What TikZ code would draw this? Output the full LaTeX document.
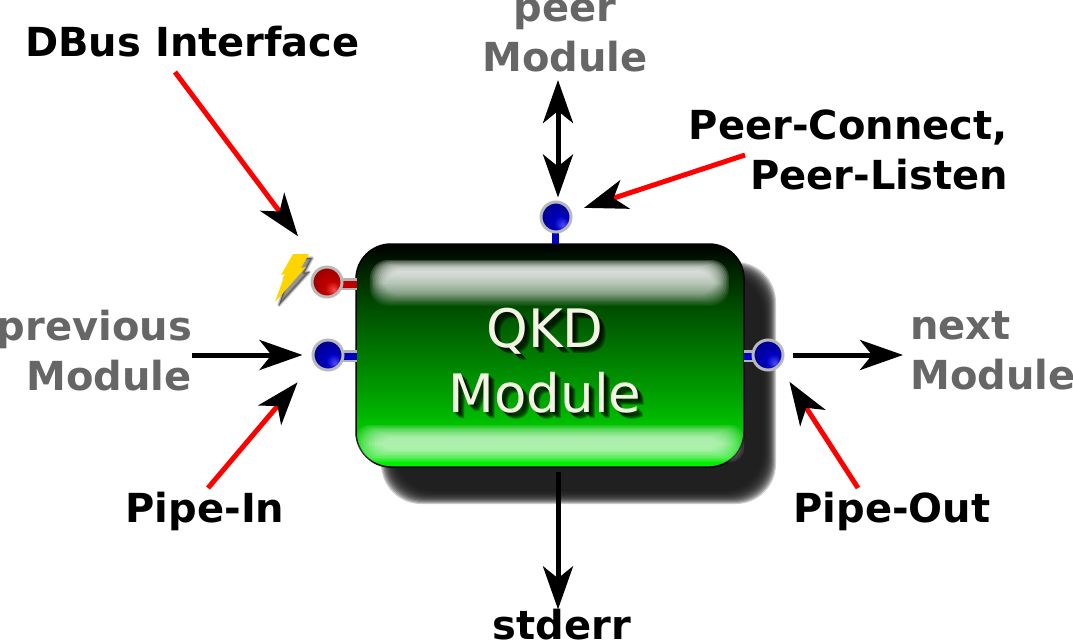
\documentclass[tikz,border=0pt]{standalone}
\usepackage{fontspec}
\setmainfont{DejaVu Sans}
\usetikzlibrary{arrows.meta,fadings}

\definecolor{labelgray}{HTML}{666666}
\definecolor{shadowgray}{HTML}{1A1A1A}
\definecolor{pipered}{HTML}{FF0000}
\definecolor{portblue}{HTML}{0000C0}
\definecolor{portred}{HTML}{C00000}
\definecolor{boltyellow}{HTML}{FFD500}
\definecolor{qkdtext}{HTML}{F4F4E4}

\pgfdeclareverticalshading{bodyshade}{100bp}{
  color(0bp)=(green!95!black);
  color(25bp)=(green!95!black);
  color(40bp)=(green!65!black);
  color(61bp)=(green!30!black);
  color(70bp)=(green!12!black);
  color(75bp)=(black);
  color(100bp)=(black)}
\pgfdeclareradialshading{bluedot}{\pgfpoint{12bp}{-14bp}}{
  color(0bp)=(blue!70!white);
  color(12bp)=(portblue);
  color(32bp)=(blue!55!black);
  color(50bp)=(blue!30!black)}
\pgfdeclareradialshading{reddot}{\pgfpoint{12bp}{-14bp}}{
  color(0bp)=(red!70!white);
  color(12bp)=(portred);
  color(32bp)=(red!60!black);
  color(50bp)=(red!35!black)}
\tikzfading[name=glossfade, top color=transparent!0, bottom color=transparent!80]

\tikzset{
  graylabel/.style={font=\bfseries\fontsize{40}{50}\selectfont, text=labelgray, inner sep=0pt},
  blacklabel/.style={font=\bfseries\fontsize{40}{50}\selectfont, text=black, inner sep=0pt},
  port/.style={circle, inner sep=0pt, minimum size=30pt, draw=gray!55, line width=3pt},
  stub/.style={line width=12pt, draw=gray!60},
  blackarrow/.style={line width=5pt, draw=black, -{Stealth[length=43pt, width=30pt, inset=12pt]}},
  twoarrow/.style={line width=5pt, draw=black, {Stealth[length=43pt, width=30pt, inset=12pt]}-{Stealth[length=43pt, width=30pt, inset=12pt]}},
  redarrow/.style={line width=5pt, draw=pipered, -{Stealth[length=43pt, width=30pt, inset=12pt, color=black]}},
}

\begin{document}
\begin{tikzpicture}[x=1pt, y=-1pt]
\useasboundingbox (0, 0) rectangle (1073, 640);

% drop shadow
\foreach \i in {0,...,13}
  \fill [shadowgray, opacity=.22, rounded corners=40pt]
    (381+\i, 262+\i) rectangle (776-\i, 504-\i);

% module body
\node (body) [draw=black, line width=1.5pt, rounded corners=35pt, shading=bodyshade,
  minimum width=388pt, minimum height=223pt, inner sep=0pt] at (550, 355.5) {};

% gloss bars
\foreach \i in {0,...,9}
  \fill [white, opacity=.2, path fading=glossfade, rounded corners=18pt]
    (370+\i*1.5, 260+\i*1.2) rectangle (729-\i*1.5, 306-\i*1.2);
\foreach \i in {0,...,9}
  \fill [white, opacity=.11, rounded corners=14pt]
    (356+\i*2.4, 425+\i*1.4) rectangle (744-\i*2.4, 462-\i*1.4);

% module caption
\foreach \d in {2,3,4,5,6}
  \node [align=center, font=\fontsize{53}{65}\selectfont, text=black, opacity=.3, inner sep=0pt]
    at (545+\d, 361+\d) {QKD\\Module};
\node (caption) [align=center, font=\fontsize{53}{65}\selectfont, text=qkdtext, inner sep=0pt]
  at (545, 361) {QKD\\Module};

% ports
\draw [stub] (335, 284) -- (357, 284);
\draw [line width=7pt, draw=portred] (335, 284) -- (357, 284);
\draw [stub] (335, 356) -- (357, 356);
\draw [line width=7pt, draw=portblue] (335, 356) -- (357, 356);
\draw [stub] (744, 356) -- (760, 356);
\draw [line width=7pt, draw=portblue] (744, 356) -- (760, 356);
\draw [line width=7pt, draw=portblue] (555, 225) -- (555, 244);

\node (portdbus) [port, shading=reddot] at (327, 282) {};
\node (portin) [port, shading=bluedot] at (328, 355) {};
\node (portpeer) [port, shading=bluedot] at (556, 217) {};
\node (portout) [port, shading=bluedot] at (768, 355) {};

% bolt
\foreach \i in {0,...,4}
  \fill [black, opacity=.1, line join=round, draw=black, line width={(4-\i)*1pt}]
    (297, 258) -- (312, 258) -- (304, 273) -- (309, 272) -- (279, 305) -- (288, 278) -- (284, 279) -- cycle;
\fill [boltyellow] (293, 254) -- (309, 254) -- (301, 268) -- (306, 267) -- (275, 302) -- (285, 274) -- (281, 275) -- cycle;

% labels
\node (peer) [graylabel, align=center] at (565, 36) {peer\\Module};
\node (prev) [graylabel, align=right, anchor=east] at (192, 351) {previous\\Module};
\node (next) [graylabel, align=left, anchor=west] at (910, 351) {next\\Module};
\node (dbus) [blacklabel] at (192.5, 42) {DBus Interface};
\node (peerlabel) [blacklabel, align=right, anchor=east] at (1008, 150) {Peer-Connect,\\Peer-Listen};
\node (pipein) [blacklabel] at (205, 511) {Pipe-In};
\node (pipeout) [blacklabel] at (892, 511) {Pipe-Out};
\node (stderr) [blacklabel] at (562, 625) {stderr};

% free ends
\coordinate (dbustail) at (175, 72);
\coordinate (peertail) at (745, 155);
\coordinate (intail) at (208, 488);
\coordinate (outtail) at (858, 488);
\coordinate (peerend) at (558, 80);
\coordinate (errstart) at (558, 472);

% connectors
\draw [twoarrow, shorten >=3pt] (peerend) -- (portpeer.north -| peerend);
\draw [blackarrow, shorten >=9pt] (prev.east |- portin) -- (portin.west);
\draw [blackarrow, shorten <=8pt] (portout.east) -- (903, 355) coordinate (nexttip);
\draw [blackarrow] (errstart) -- (stderr.north -| errstart);
\draw [redarrow, shorten >=38pt] (dbustail) -- (portdbus.112);
\draw [redarrow, shorten >=13pt] (peertail) -- (portpeer.18);
\draw [redarrow, shorten >=25pt] (intail) -- (portin.210);
\draw [redarrow, shorten >=18pt] (outtail) -- (portout.315);
\end{tikzpicture}
\end{document}
